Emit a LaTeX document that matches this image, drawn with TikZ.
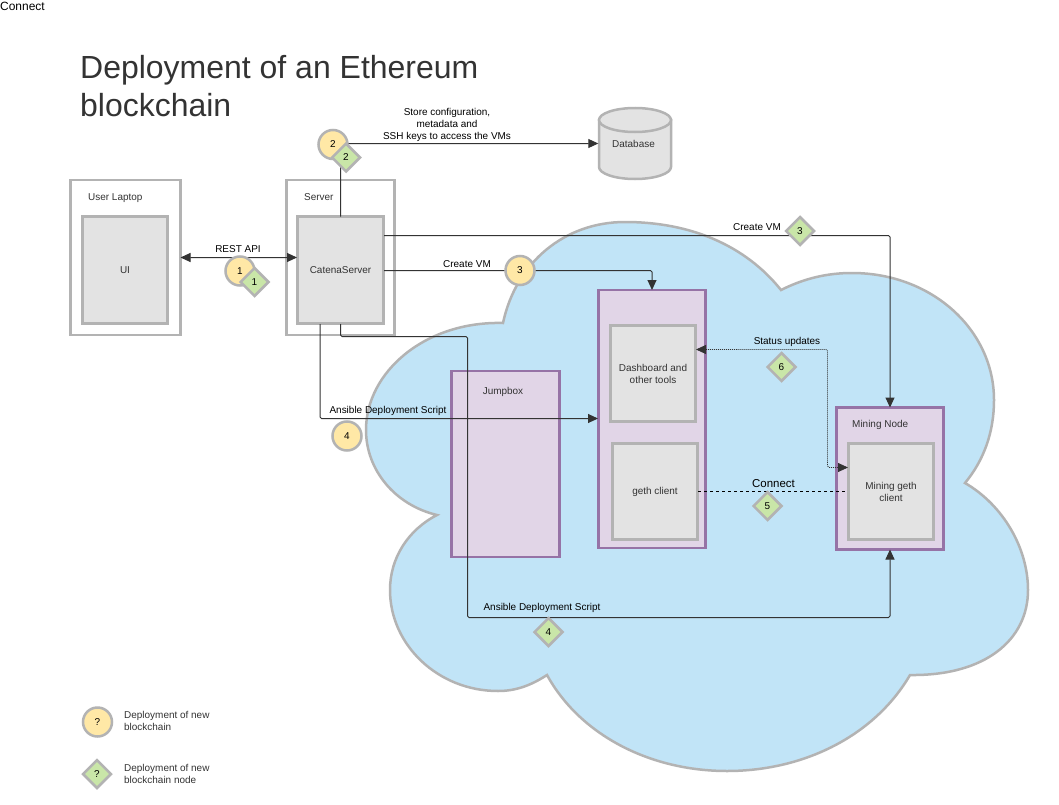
\documentclass[tikz,border=0pt]{standalone}
\usepackage{fontspec}
\setmainfont{Liberation Sans}
\usetikzlibrary{arrows.meta,shapes.geometric}
\definecolor{graybd}{HTML}{B3B3B3}
\definecolor{grayfill}{HTML}{E3E3E3}
\definecolor{cloudfill}{HTML}{C1E4F7}
\definecolor{purpfill}{HTML}{E1D5E7}
\definecolor{purpbd}{HTML}{9673A6}
\definecolor{yel}{HTML}{FFE8A6}
\definecolor{grn}{HTML}{C9E6A8}
\definecolor{ink}{HTML}{333333}
\newcommand{\fs}[1]{\fontsize{#1}{12}\selectfont}
\tikzset{
  x=1bp,y=-1bp,
  outerbox/.style={draw=graybd,line width=2.5bp,fill=white,inner sep=0,outer sep=0,anchor=north west},
  graybox/.style={draw=graybd,line width=2.5bp,fill=grayfill,inner sep=0,outer sep=0,anchor=north west,text=ink,align=center,font=\fs{10}},
  purpbox/.style={draw=purpbd,line width=2.5bp,fill=purpfill,inner sep=0,outer sep=0,anchor=north west},
  lab/.style={text=ink,font=\fs{10},inner sep=0,align=left},
  clab/.style={text=black,font=\fs{10},inner sep=0,align=center},
  badgec/.style={circle,draw=graybd,line width=2.5bp,fill=yel,minimum size=29bp,inner sep=0,font=\fs{10},text=black},
  badged/.style={diamond,aspect=1,draw=graybd,line width=2.5bp,fill=grn,minimum width=29bp,minimum height=29bp,inner sep=0,font=\fs{10},text=black},
  conn/.style={draw=ink,line width=1bp,rounded corners=1.5bp,-{Triangle[length=10bp,width=9bp]}},
}
\begin{document}
\begin{tikzpicture}
\useasboundingbox (0,0) rectangle (1059,805);
\path[fill=white] (0,0) rectangle (1059,805);
% cloud
\draw[draw=graybd,line width=2.5bp,fill=cloudfill]
 (503,323) .. controls (516,262) and (565,222) .. (625,222)
 .. controls (690,222) and (745,245) .. (781,290)
 .. controls (805,278) and (828,273) .. (852,273)
 .. controls (932,273) and (994,330) .. (994,400)
 .. controls (994,432) and (984,460) .. (965,483)
 .. controls (1003,505) and (1028,548) .. (1028,590)
 .. controls (1028,640) and (985,676) .. (910,675)
 .. controls (875,735) and (805,771) .. (727,771)
 .. controls (650,771) and (580,735) .. (547,675)
 .. controls (530,686) and (515,691) .. (498,691)
 .. controls (438,691) and (390,645) .. (390,590)
 .. controls (390,558) and (408,530) .. (437,515)
 .. controls (395,505) and (366,470) .. (366,430)
 .. controls (366,372) and (425,321) .. (503,323) -- cycle;
% title and free text
\node[anchor=north west,inner sep=0,text=ink,font=\fontsize{32.1}{38}\selectfont,align=left] (title) at (80,55) {Deployment of an Ethereum\\blockchain};
\node[anchor=west,inner sep=0,font=\fs{12},text=black] (conntop) at (0,6.5) {Connect};
% boxes
\node[outerbox,minimum width=110bp,minimum height=155bp] (laptop) at (70.5,180) {};
\node[lab,anchor=west] (laptoplab) at (88,198.5) {User Laptop};
\node[graybox,minimum width=85bp,minimum height=107bp] (ui) at (82.5,216.5) {UI};
\node[outerbox,minimum width=108bp,minimum height=155bp] (server) at (286.5,180) {};
\node[lab,anchor=west] (serverlab) at (304,197.5) {Server};
\node[graybox,minimum width=86bp,minimum height=107bp] (cs) at (297.5,216.5) {CatenaServer};
\node[purpbox,minimum width=108bp,minimum height=186bp] (jump) at (451.5,371) {};
\node[lab] (jumplab) at (503,391.5) {Jumpbox};
\node[purpbox,minimum width=107bp,minimum height=258bp] (group) at (598.5,290) {};
\node[graybox,minimum width=85bp,minimum height=96bp] (dash) at (610.5,325.5) {Dashboard and\\other tools};
\node[graybox,minimum width=85bp,minimum height=96bp] (geth) at (612.5,443.5) {geth client};
\node[purpbox,minimum width=107bp,minimum height=142bp] (mining) at (836.5,407.5) {};
\node[lab,anchor=west] (mininglab) at (852,425) {Mining Node};
\node[graybox,minimum width=85bp,minimum height=96bp] (mgeth) at (848.5,443.5) {Mining geth\\client};
% database
\draw[draw=graybd,line width=2.5bp,fill=grayfill]
 (599,120) -- (599,167) arc[start angle=180,end angle=0,x radius=36,y radius=12] -- (671,120) -- cycle;
\draw[draw=graybd,line width=2.5bp,fill=grayfill] (635,120) ellipse[x radius=36,y radius=12];
\node[inner sep=0,minimum width=72bp,minimum height=72bp,text=ink,font=\fs{10}] (db) at (634.5,143.5) {\hspace*{-2bp}Database};
% connectors
\coordinate (vma) at (384,235.5);
\coordinate (vmb) at (384,270.5);
\coordinate (ansa) at (320,324);
\coordinate (ansb) at (340.5,324);
\coordinate (stat) at (696,349.5);
\coordinate (mgethin) at (848,467.5);
\coordinate (gethout) at (698,491.5);
\coordinate (mgethout) at (848,491.5);
\coordinate (ansin) at (598,418.5);
\coordinate (restr) at (297,257.5);
\draw[conn] (cs.north) |- (db.west);
\draw[conn,{Triangle[length=10bp,width=9bp]}-{Triangle[length=10bp,width=9bp]}] (laptop.east) -- (restr);
\draw[conn] (vma) -| (mining.north);
\draw[conn] (vmb) -| (group.north);
\draw[conn] (ansa) |- (ansin);
\draw[conn] (ansb) -- (340.5,336.5) -- (467.5,336.5) -- (467.5,617.5) -| (mining.south);
\draw[conn,densely dotted,line width=0.8bp,{Triangle[length=10bp,width=9bp]}-{Triangle[length=10bp,width=9bp]}] (stat) -- (827.5,349.5) -- (827.5,467.5) -- (mgethin);
\draw[draw=black,line width=0.9bp,dash pattern=on 3bp off 3bp] (gethout) -- (mgethout);
% connector labels
\node[clab] (l1) at (238,249.5) {REST API};
\node[clab] (l2) at (447,124.5) {Store configuration,\\metadata and\\SSH keys to access the VMs};
\node[clab] (l3) at (467,264.5) {Create VM};
\node[clab] (l4) at (757,227.5) {Create VM};
\node[clab] (l5) at (388,410.5) {Ansible Deployment Script};
\node[clab] (l6) at (542,607.5) {Ansible Deployment Script};
\node[clab] (l7) at (787,341.5) {Status updates};
\node[clab,font=\fs{11.5}] (l8) at (773.5,483.5) {Connect};
% badges
\node[badgec] (c1) at (240,271) {1};
\node[badged] (d1) at (254.5,282) {1};
\node[badgec] (c2) at (333,144.5) {2};
\node[badged] (d2) at (346,157.5) {2};
\node[badgec] (c3) at (520,270.5) {3};
\node[badged] (d3) at (800,231) {3};
\node[badgec] (c4) at (347,436) {4};
\node[badged] (d4) at (548.5,632) {4};
\node[badged] (d5) at (767.5,506) {5};
\node[badged] (d6) at (781.5,367) {6};
% legend
\node[badgec] (lc) at (97.5,722) {?};
\node[badged] (ld) at (97,774) {?};
\node[lab,anchor=west] (lt1) at (124,721) {Deployment of new\\blockchain};
\node[lab,anchor=west] (lt2) at (124,773.5) {Deployment of new\\blockchain node};
\end{tikzpicture}
\end{document}
